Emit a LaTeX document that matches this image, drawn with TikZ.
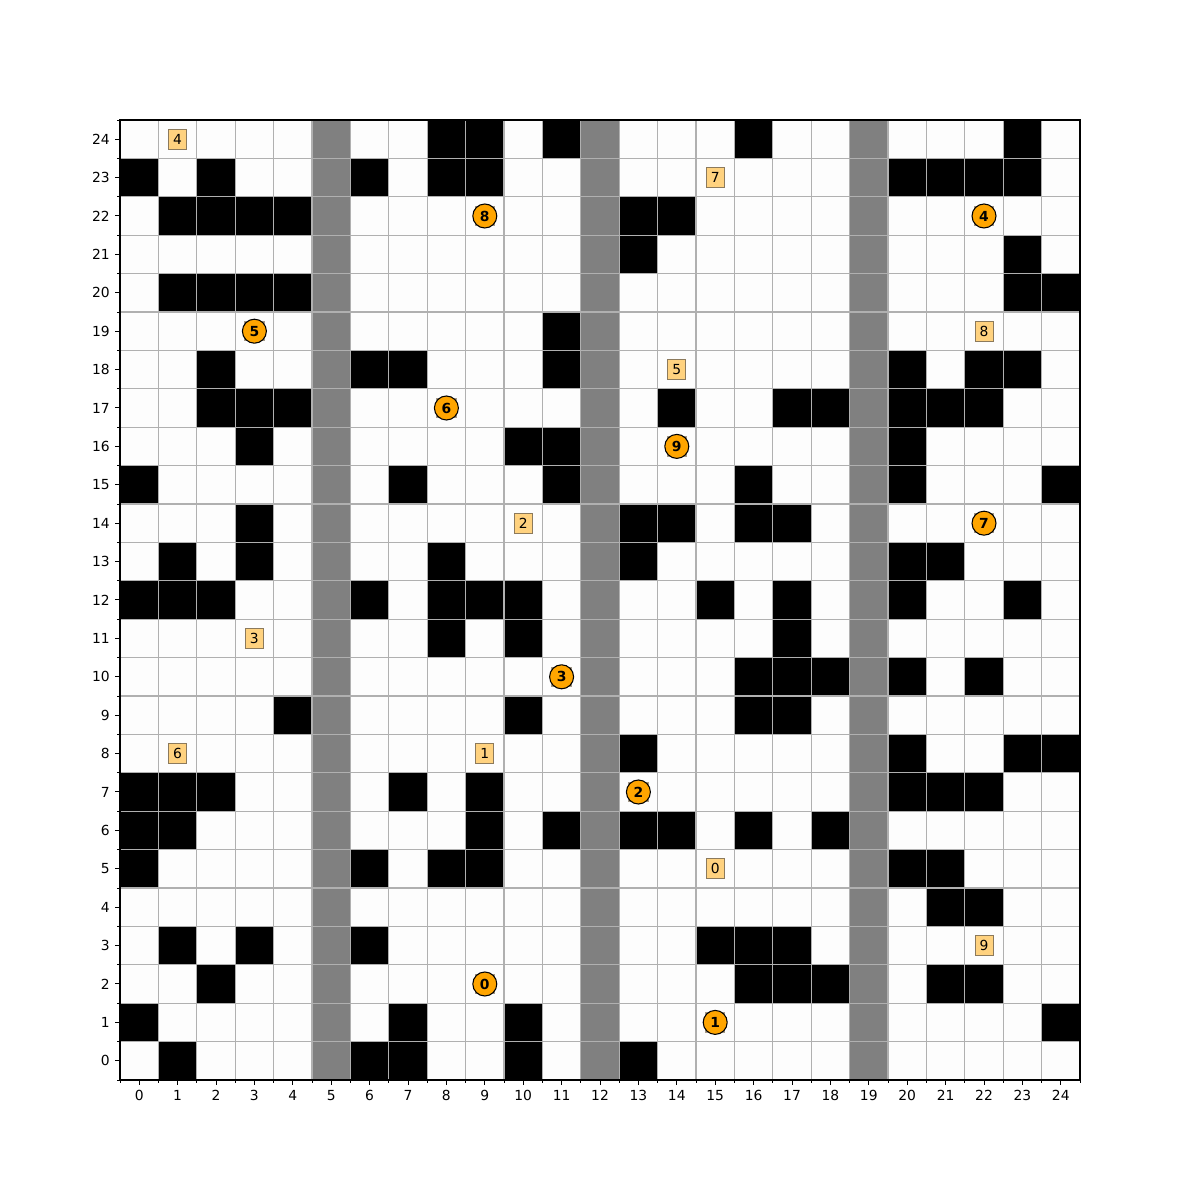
\documentclass[tikz,border=0pt]{standalone}
\usepackage{fontspec}
\usetikzlibrary{calc}
\setmainfont{DejaVu Sans}
\definecolor{gridc}{HTML}{B0B0B0}
\definecolor{wallc}{HTML}{808080}
\definecolor{agentc}{HTML}{FFA500}
\definecolor{goalc}{HTML}{FFD27F}
\definecolor{goaledge}{HTML}{8C7A5C}
\definecolor{cellw}{HTML}{FDFDFD}
\definecolor{shadowc}{HTML}{6E5C40}
\tikzset{
  agent/.style={circle, draw=black, line width=0.8pt, fill=agentc, minimum size=18pt, inner sep=0pt, font=\fontsize{10.4}{12}\selectfont\bfseries},
  goal/.style={rectangle, draw=goaledge, line width=0.75pt, fill=goalc, minimum width=13.5pt, minimum height=15pt, inner sep=0pt, font=\fontsize{10.4}{12}\selectfont},
  ticklab/.style={inner sep=0pt, font=\fontsize{10.4}{12}\selectfont},
  gridline/.style={draw=gridc, line width=0.8pt},
  spine/.style={draw=black, line width=1.2pt}
}
\begin{document}
\begin{tikzpicture}[x=28.8pt, y=28.8pt]
\useasboundingbox[fill=white] (-3.625,-3.625) rectangle (27.625,27.625);
% background cells
\fill[cellw] (-0.5,-0.5) rectangle (24.5,24.5);
% wall columns
\foreach \c in {5,12,19} \fill[wallc] (\c-0.5,-0.5) rectangle (\c+0.5,24.5);
% black cells
\foreach \r/\cols in {
  24/{8,9,11,16,23},
  23/{0,2,6,8,9,20,21,22,23},
  22/{1,2,3,4,13,14},
  21/{13,23},
  20/{1,2,3,4,23,24},
  19/{11},
  18/{2,6,7,11,20,22,23},
  17/{2,3,4,14,17,18,20,21,22},
  16/{3,10,11,20},
  15/{0,7,11,16,20,24},
  14/{3,13,14,16,17},
  13/{1,3,8,13,20,21},
  12/{0,1,2,6,8,9,10,15,17,20,23},
  11/{8,10,17},
  10/{16,17,18,20,22},
  9/{4,10,16,17},
  8/{13,20,23,24},
  7/{0,1,2,7,9,20,21,22},
  6/{0,1,9,11,13,14,16,18},
  5/{0,6,8,9,20,21},
  4/{21,22},
  3/{1,3,6,15,16,17},
  2/{2,16,17,18,21,22},
  1/{0,7,10,24},
  0/{1,6,7,10,13}}
  \foreach \c in \cols \fill[black] (\c-0.5,\r-0.5) rectangle (\c+0.5,\r+0.5);
% grid lines
\foreach \k in {0,...,25} {
  \draw[gridline] (\k-0.5,-0.5) -- (\k-0.5,24.5);
  \draw[gridline] (-0.5,\k-0.5) -- (24.5,\k-0.5);
}
% ticks and labels
\foreach \k in {0,...,24} {
  \draw[black, line width=0.75pt] (\k,-0.5) -- (\k,-0.63);
  \draw[black, line width=0.75pt] (-0.5,\k) -- (-0.63,\k);
  \node[ticklab, anchor=north] (tx\k) at (\k,-0.76) {\k};
  \node[ticklab, anchor=east] (ty\k) at (-0.76,\k) {\k};
}
\foreach \k in {0,...,25} {
  \draw[black, line width=0.6pt] (\k-0.5,-0.5) -- (\k-0.5,-0.57);
  \draw[black, line width=0.6pt] (-0.5,\k-0.5) -- (-0.57,\k-0.5);
}
% spines
\draw[spine] (-0.5,-0.5) rectangle (24.5,24.5);
% goals
\foreach \n/\x/\y in {0/15/5,1/9/8,2/10/14,3/3/11,4/1/24,5/14/18,6/1/8,7/15/23,8/22/19,9/22/3}
  \node[goal] (g\n) at (\x,\y) {\n};
% agents
\foreach \n/\x/\y in {0/9/2,1/15/1,2/13/7,3/11/10,4/22/22,5/3/19,6/8/17,7/22/14,8/9/22,9/14/16} {
  \fill[shadowc, opacity=0.6] ($(\x,\y)+(-7.7pt,-7.7pt)$) rectangle ($(\x,\y)+(7.7pt,7.7pt)$);
  \node[agent] (a\n) at (\x,\y) {\n};
}
\end{tikzpicture}
\end{document}
